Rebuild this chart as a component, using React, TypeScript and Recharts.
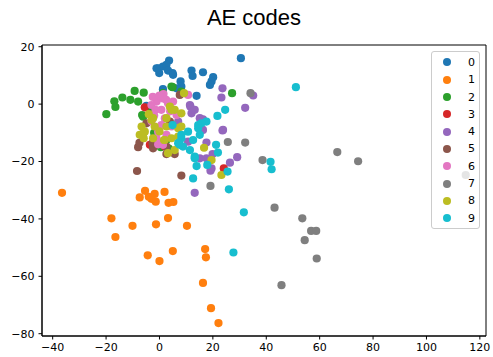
import React from 'react';
import { ScatterChart, Scatter, XAxis, YAxis, Legend, ReferenceArea } from 'recharts';

// points per AE code as [x, y]
const code0 = [
  [-0.5, 12.5], [1.3, 13.1], [3.6, 15.2], [2.6, 13.7], [3.2, 11.7], [-0.1, 10.8], [4.9, 10.8],
  [12.0, 11.7], [12.4, 9.8], [16.3, 11.1], [20.1, 9.4], [19.5, 7.9], [7.9, 7.9], [8.2, 6.1],
  [1.3, 5.2], [13.9, 2.9], [30.5, 16.0], [8.2, 4.4], [-4.9, -0.6], [6.4, 5.5], [18.9, 6.7],
  [5.1, 10.2], [-1.1, 12.5],
];
const code1 = [
  [-36.5, -30.9], [-5.4, -30.2], [-7.4, -32.5], [-4.0, -32.3], [-1.8, -31.3], [-1.4, -34.0],
  [1.9, -30.6], [3.4, -34.4], [5.2, -34.1], [-18.0, -39.8], [-16.5, -46.3], [-10.1, -42.4],
  [-1.3, -41.9], [3.2, -39.7], [10.3, -42.4], [-4.4, -52.7], [0.0, -54.7], [5.0, -51.2],
  [17.1, -50.5], [17.4, -53.4], [16.3, -62.3], [19.3, -71.1], [22.1, -76.3], [-3.0, -33.0],
];
const code2 = [
  [-19.9, -3.5], [-16.9, 1.0], [-16.5, -1.0], [-13.9, 2.3], [-10.9, 1.5], [-9.3, 4.6],
  [-8.0, 0.9], [-5.9, 4.0], [-6.5, -3.8], [1.3, 3.8], [4.9, 5.9], [27.2, 3.8], [-3.0, -2.4],
  [4.5, 6.1], [8.2, 4.4], [2.6, -12.5], [-6.1, -4.4], [0.5, -15.0], [-2.0, -10.0], [3.5, -15.5],
];
const code3 = [[-5.5, -1.1], [24.1, -22.4], [-3.6, -14.2], [2.0, -14.8]];
const code4 = [
  [23.6, 5.5], [23.2, 2.3], [35.1, 3.0], [32.1, -1.3], [23.6, -9.2], [17.6, -13.4], [16.0, -5.5],
  [29.1, -18.5], [26.4, -20.4], [19.5, -22.4], [15.1, -18.9], [19.9, -17.4], [11.6, -0.9],
  [12.0, -3.2], [16.3, -5.3], [13.2, -30.9], [19.1, -23.2], [11.4, -0.3], [13.2, -2.0],
  [15.1, -4.9], [23.8, -9.0], [16.3, -9.0], [10.7, -13.1], [7.0, -6.1], [17.6, -18.9],
];
const code5 = [
  [-8.0, -15.0], [-7.5, -13.5], [-8.4, -23.3], [8.2, -24.9], [-2.6, -13.6], [-4.9, -6.7],
  [2.6, -17.4], [5.7, -17.4], [7.6, 3.2], [-2.4, -15.4], [2.6, -14.8], [3.9, -6.1], [-1.8, -13.6],
];
const code6 = [
  [-1.1, 0.9], [1.3, 2.0], [3.2, 0.3], [0.7, -2.0], [5.1, 0.9], [-0.5, -9.6], [-1.1, -11.9],
  [0.7, -7.3], [4.5, -7.8], [-3.0, -0.3], [6.4, -3.8], [2.6, -10.7], [10.7, 3.2], [-2.0, -4.0],
  [2.0, -5.0], [-0.5, -14.0], [1.5, 3.5], [1.3, -14.2], [-2.5, 2.5], [0.0, 3.0], [4.0, -2.5],
  [-1.5, -2.0], [2.5, 1.5], [-3.0, -6.0],
];
const code7 = [
  [19.1, -28.5], [43.1, -36.1], [53.5, -39.8], [56.8, -44.2], [58.7, -44.2], [54.4, -47.4],
  [58.9, -53.8], [45.7, -63.1], [114.7, -24.7], [34.1, 3.8], [66.6, -16.7], [74.4, -19.9],
  [25.6, -13.2], [32.1, -13.4], [38.6, -19.5],
];
const code8 = [
  [9.2, 3.8], [16.7, -15.2], [19.5, -19.5], [23.2, -24.7], [-5.5, -9.6], [-6.7, -7.8],
  [-2.4, -4.9], [-1.8, -7.8], [2.6, -4.9], [3.9, -0.9], [5.7, -2.0], [1.7, -12.5], [4.5, -11.9],
  [3.2, -17.1], [5.7, -16.0], [-7.4, -10.7], [-2.4, -11.9], [-6.1, -10.2], [-3.0, -5.5],
  [4.5, -2.0], [2.6, -7.8], [8.2, -7.8], [2.0, -12.5], [8.2, -3.2], [7.0, -8.4], [-4.0, -3.5],
  [0.0, -9.5], [-5.9, -11.9], [7.0, -11.3],
];
const code9 = [
  [51.1, 5.9], [24.6, -2.0], [21.7, -4.1], [17.6, -6.1], [15.7, -6.7], [21.2, -14.2],
  [21.9, -16.9], [41.6, -20.1], [42.0, -22.7], [17.9, -21.2], [25.5, -23.5], [26.0, -29.7],
  [31.6, -37.7], [27.7, -51.7], [14.5, -7.3], [4.9, -7.3], [13.2, -18.9], [13.9, -21.6],
  [12.6, -25.9], [8.2, -11.9], [7.6, -14.2], [8.2, -10.7], [10.7, -9.6], [12.6, -12.5],
  [14.5, -8.4], [8.8, -14.8], [13.2, -18.3], [11.4, -16.0], [15.1, -10.7], [7.0, -13.6],
];

const codeNames = ['0', '1', '2', '3', '4', '5', '6', '7', '8', '9'];
const codeColors = ['#1f77b4', '#ff7f0e', '#2ca02c', '#d62728', '#9467bd', '#8c564b', '#e377c2', '#7f7f7f', '#bcbd22', '#17becf'];
const xTicks = [-40, -20, 0, 20, 40, 60, 80, 100, 120];
const yTicks = [-80, -60, -40, -20, 0, 20];
const xDomain = [-44, 122.3];
const yDomain = [-80.8, 20.6];

const allCodes = [code0, code1, code2, code3, code4, code5, code6, code7, code8, code9];
const FONT = '"DejaVu Sans", sans-serif';

const fmt = (v: number) => (v < 0 ? `\u2212${Math.abs(v)}` : `${v}`);

const dot = (color: string) => (props: any) => (
  <circle cx={props.cx} cy={props.cy} r={4.1} fill={color} />
);

const LegendBox = () => (
  <div
    style={{
      width: 47,
      height: 174,
      paddingTop: 1.7,
      background: 'rgba(255,255,255,0.8)',
      border: '1px solid #cccccc',
      borderRadius: 3,
      fontFamily: FONT,
      fontSize: 11,
      color: '#000',
    }}
  >
    {codeNames.map((name, i) => (
      <div key={name} style={{ height: 17.33, display: 'flex', alignItems: 'center' }}>
        <div style={{ width: 8, height: 8, borderRadius: '50%', background: codeColors[i], marginLeft: 11 }} />
        <span style={{ marginLeft: 17 }}>{name}</span>
      </div>
    ))}
  </div>
);

export default function App() {
  return (
    <div style={{ position: 'absolute', left: 0, top: 0, width: 493, height: 357, background: '#fff' }}>
      <div
        style={{
          position: 'absolute',
          left: 154,
          width: 200,
          top: 6,
          textAlign: 'center',
          fontFamily: '"Liberation Sans", Arial, sans-serif',
          fontSize: 22,
          lineHeight: '24px',
          color: '#000',
        }}
      >
        AE codes
      </div>
      <ScatterChart width={493} height={357} margin={{ top: 45, right: 7, bottom: 0, left: 0 }}>
        <XAxis
          type="number"
          dataKey="x"
          domain={xDomain}
          ticks={xTicks}
          allowDataOverflow
          tickFormatter={fmt}
          tickSize={3.5}
          tickMargin={4}
          height={21}
          stroke="#000"
          tick={{ fill: '#000', fontSize: 11, fontFamily: FONT }}
        />
        <YAxis
          type="number"
          dataKey="y"
          domain={yDomain}
          ticks={yTicks}
          allowDataOverflow
          tickFormatter={fmt}
          tickSize={3.5}
          tickMargin={4}
          width={42}
          stroke="#000"
          tick={{ fill: '#000', fontSize: 11, fontFamily: FONT }}
        />
        <ReferenceArea
          x1={xDomain[0]}
          x2={xDomain[1]}
          y1={yDomain[0]}
          y2={yDomain[1]}
          fill="none"
          fillOpacity={0}
          stroke="#000"
          strokeWidth={1}
          ifOverflow="visible"
        />
        <Legend
          layout="vertical"
          align="center"
          verticalAlign="middle"
          content={() => <LegendBox />}
          wrapperStyle={{ top: 51, left: 431, width: 49, height: 176 }}
        />
        {allCodes.map((pts, i) => (
          <Scatter
            key={codeNames[i]}
            name={codeNames[i]}
            data={pts.map(([x, y]) => ({ x, y }))}
            fill={codeColors[i]}
            shape={dot(codeColors[i])}
            isAnimationActive={false}
          />
        ))}
      </ScatterChart>
    </div>
  );
}
